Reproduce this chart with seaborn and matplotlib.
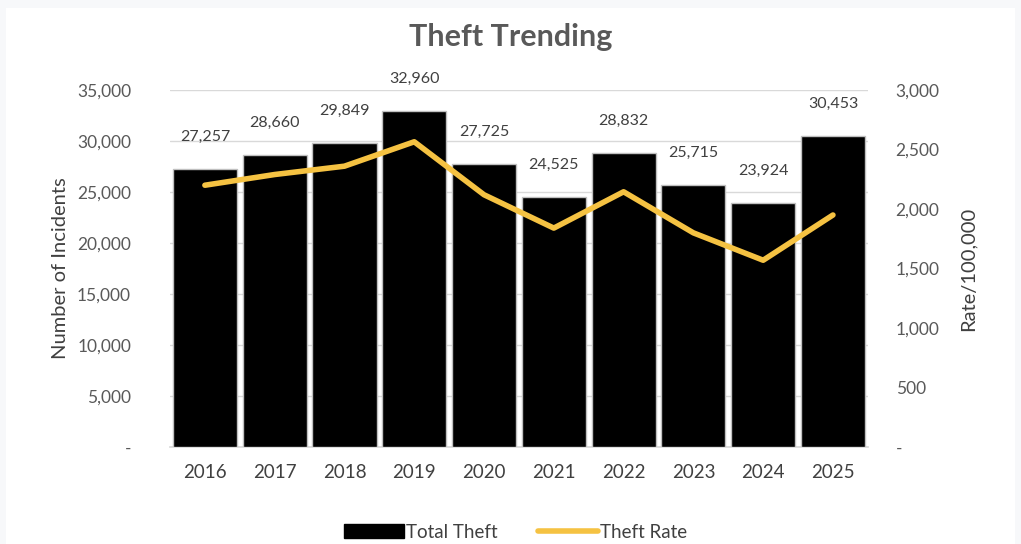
import numpy as np
import pandas as pd
import matplotlib
matplotlib.use('Agg')
import matplotlib.pyplot as plt
import matplotlib.patches as mpatches
from matplotlib.lines import Line2D
from matplotlib.ticker import FuncFormatter
import seaborn as sns

# Dados
anos = ['2016', '2017', '2018', '2019', '2020', '2021', '2022', '2023', '2024', '2025']
total_theft = [27257, 28660, 29849, 32960, 27725, 24525, 28832, 25715, 23924, 30453]
theft_rate = [2200, 2290, 2360, 2565, 2120, 1840, 2145, 1800, 1570, 1950]

df = pd.DataFrame({'Ano': anos, 'Total': total_theft, 'Rate': theft_rate})

sns.set_theme(style='white')
plt.rcParams['font.family'] = ['Lato', 'DejaVu Sans']

cinza_txt = '#595959'
amarelo = '#F5C242'

fig = plt.figure(figsize=(10.21, 5.44), dpi=100)
fig.patch.set_facecolor('#f7f8fa')
fig.add_artist(mpatches.Rectangle((0.006, 0.0), 0.988, 0.985, transform=fig.transFigure,
                                  facecolor='white', edgecolor='none', zorder=0))

ax = fig.add_axes([0.1665, 0.178, 0.6835, 0.6566])
ax.set_facecolor('none')

# Barras
sns.barplot(data=df, x='Ano', y='Total', color='black', width=0.92,
            edgecolor='#bfbfbf', linewidth=1, saturation=1, ax=ax, zorder=3)
ax.bar_label(ax.containers[0], labels=[f'{v:,}' for v in total_theft],
             padding=18, fontsize=11.5, color='#404040', zorder=4)

ax.set_ylim(0, 35000)
ax.set_yticks(np.arange(0, 35001, 5000))
fmt = FuncFormatter(lambda v, p: '-' if v == 0 else f'{int(v):,}')
ax.yaxis.set_major_formatter(fmt)
ax.grid(axis='y', color='#d9d9d9', linewidth=1, zorder=0)
ax.set_axisbelow(True)
ax.tick_params(axis='y', length=0, labelsize=12.5, labelcolor=cinza_txt, pad=28)
ax.tick_params(axis='x', length=0, labelsize=13.5, labelcolor='#404040', pad=12)
ax.set_xlabel('')
ax.set_ylabel('Number of Incidents', fontsize=14.5, color='#404040', labelpad=6)
for s in ax.spines.values():
    s.set_visible(False)
ax.spines['bottom'].set_visible(True)
ax.spines['bottom'].set_color('#d9d9d9')

# Linha da taxa
ax2 = ax.twinx()
sns.lineplot(x=np.arange(len(anos)), y=theft_rate, color=amarelo, linewidth=4,
             ax=ax2, zorder=5)
ax2.set_ylim(0, 3000)
ax2.set_yticks(np.arange(0, 3001, 500))
ax2.yaxis.set_major_formatter(fmt)
ax2.tick_params(axis='y', length=0, labelsize=12.5, labelcolor=cinza_txt, pad=20)
for lbl in ax2.get_yticklabels():
    lbl.set_horizontalalignment('left')
ax2.set_ylabel('Rate/100,000', fontsize=14.5, color='#404040', labelpad=14)
for s in ax2.spines.values():
    s.set_visible(False)
ax.set_xlim(-0.5, len(anos) - 0.5)

fig.text(0.5, 0.932, 'Theft Trending', ha='center', va='center',
         fontsize=22, fontweight='bold', color=cinza_txt)

handles = [mpatches.Patch(facecolor='black', edgecolor='black', label='Total Theft'),
           Line2D([0], [0], color=amarelo, linewidth=4, label='Theft Rate')]
fig.legend(handles=handles, loc='center', bbox_to_anchor=(0.505, 0.022), ncol=2,
           frameon=False, fontsize=13.5, labelcolor='#404040', handlelength=3.2,
           handletextpad=0.1, columnspacing=2.2)

fig.savefig('out.png', dpi=100)
